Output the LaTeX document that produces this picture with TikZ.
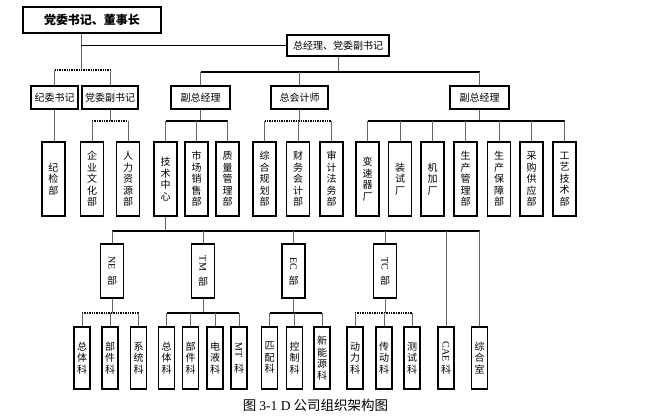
\documentclass[tikz,border=0pt]{standalone}
\usepackage{fontspec}
\usepackage{graphicx}
\newfontfamily\cjk{Noto Sans CJK SC}
\newfontfamily\lat{Liberation Serif}
\newcommand\latv[1]{\rotatebox[origin=c]{-90}{\lat #1}}
\begin{document}
\begin{tikzpicture}[x=1pt, y=-1pt, every node/.style={font=\cjk\fontsize{10}{11.5}\selectfont},
    box/.style={draw, line width=1.1pt, inner sep=0pt, align=center},
    lead/.style={box, minimum height=23},
    dept/.style={box, minimum width=23, minimum height=74},
    unit/.style={box, minimum width=23, minimum height=54},
    sect/.style={box, minimum width=16, minimum height=62},
    link/.style={black!60, line width=0.8pt},
    bus/.style={line width=1.4pt},
    dbus/.style={line width=1.4pt, densely dotted}]
    \useasboundingbox (0,0) rectangle (649,418);
    \node[box, minimum width=138, minimum height=26, font=\cjk\fontsize{12}{14}\selectfont\bfseries] (chair) at (92,20) {党委书记、董事长};
    \node[box, minimum width=102, minimum height=21] (gm) at (338,45.5) {总经理、党委副书记};
    \node[lead, minimum width=47] (jw) at (54.5,97.5) {纪委书记};
    \node[lead, minimum width=56] (dw) at (110,97.5) {党委副书记};
    \node[lead, minimum width=59] (fz1) at (200.5,97.5) {副总经理};
    \node[lead, minimum width=57] (kj) at (299.5,97.5) {总会计师};
    \node[lead, minimum width=59] (fz2) at (479.5,97.5) {副总经理};
    \foreach \n/\x/\t in {jj/53.5/{纪\\检\\部}, qy/92/{企\\业\\文\\化\\部}, rl/128/{人\\力\\资\\源\\部},
        js/165.5/{技\\术\\中\\心}, sc/196.5/{市\\场\\销\\售\\部}, zl/227.5/{质\\量\\管\\理\\部},
        zh/264.5/{综\\合\\规\\划\\部}, cw/298/{财\\务\\会\\计\\部}, sj/331.5/{审\\计\\法\\务\\部},
        bs/367.5/{变\\速\\器\\厂}, zs/400/{装\\试\\厂}, jg/432.5/{机\\加\\厂}, gl/465.5/{生\\产\\管\\理\\部},
        bz/499/{生\\产\\保\\障\\部}, cg/531.5/{采\\购\\供\\应\\部}, gy/564.5/{工\\艺\\技\\术\\部}}
        \node[dept] (\n) at (\x,179) {\t};
    \node[unit] (ne) at (112,271) {\latv{NE}\\[5pt]部};
    \node[unit] (tm) at (203,271) {\latv{TM}\\[5pt]部};
    \node[unit] (ec) at (293.5,271) {\latv{EC}\\[5pt]部};
    \node[unit] (tc) at (385,271) {\latv{TC}\\[5pt]部};
    \foreach \n/\x/\t in {a1/82/{总\\体\\科}, a2/110/{部\\件\\科}, a3/138.5/{系\\统\\科},
        b1/166.5/{总\\体\\科}, b2/190.5/{部\\件\\科}, b3/215/{电\\液\\科}, b4/239/{\latv{MT}\\[5pt]科},
        c1/269.5/{匹\\配\\科}, c2/294.5/{控\\制\\科}, c3/322/{新\\能\\源\\科},
        d1/355/{动\\力\\科}, d2/384/{传\\动\\科}, d3/412/{测\\试\\科},
        cae/446/{\latv{CAE}\\[3pt]科}, zhs/479.5/{综\\合\\室}}
        \node[sect] (\n) at (\x,358) {\t};
    \node[font=\cjk\fontsize{13.5}{15}\selectfont] (cap) at (315.5,405) {图 {\lat 3-1 D} 公司组织架构图};
    \coordinate (y1) at (0,70);
    \coordinate (y2) at (0,72);
    \coordinate (y3) at (0,121);
    \coordinate (y4) at (0,231);
    \coordinate (y5) at (0,313);
    \coordinate (cs) at ([xshift=-11]chair.south);
    \draw[link] (cs) -- (cs |- y1);
    \draw[bus] (cs |- gm.west) -- (gm.west);
    \draw[dbus] (jw.north |- y1) -- (dw.north |- y1);
    \foreach \n in {jw,dw} \draw[link] (\n.north |- y1) -- (\n.north);
    \draw[link] (gm.south) -- (gm.south |- y2);
    \draw[bus] (fz1.north |- y2) -- (fz2.north |- y2);
    \foreach \n in {fz1,kj,fz2} \draw[link] (\n.north |- y2) -- (\n.north);
    \draw[link] (jw.south) -- (jw.south |- jj.north);
    \draw[link] (dw.south) -- (dw.south |- y3);
    \draw[dbus] (qy.north |- y3) -- (rl.north |- y3);
    \foreach \n in {qy,rl} \draw[link] (\n.north |- y3) -- (\n.north);
    \draw[link] (fz1.south) -- (fz1.south |- y3);
    \draw[bus] (js.north |- y3) -- (zl.north |- y3);
    \foreach \n in {js,sc,zl} \draw[link] (\n.north |- y3) -- (\n.north);
    \draw[link] (kj.south) -- (kj.south |- y3);
    \draw[dbus] (zh.north |- y3) -- (sj.north |- y3);
    \foreach \n in {zh,cw,sj} \draw[link] (\n.north |- y3) -- (\n.north);
    \draw[link] (fz2.south) -- (fz2.south |- y3);
    \draw[bus] (bs.north |- y3) -- (gy.north |- y3);
    \foreach \n in {bs,zs,jg,gl,bz,cg,gy} \draw[link] (\n.north |- y3) -- (\n.north);
    \draw[link] (js.south) -- (js.south |- y4);
    \draw[bus] (ne.north |- y4) -- (zhs.north |- y4);
    \foreach \n in {ne,tm,ec,tc,cae,zhs} \draw[link] (\n.north |- y4) -- (\n.north);
    \draw[link] (ne.south) -- (ne.south |- y5);
    \draw[dbus] (a1.north |- y5) -- (a3.north |- y5);
    \foreach \n in {a1,a2,a3} \draw[link] (\n.north |- y5) -- (\n.north);
    \draw[link] (tm.south) -- (tm.south |- y5);
    \draw[bus] (b1.north |- y5) -- (b4.north |- y5);
    \foreach \n in {b1,b2,b3,b4} \draw[link] (\n.north |- y5) -- (\n.north);
    \draw[link] (ec.south) -- (ec.south |- y5);
    \draw[bus] (c1.north |- y5) -- (c3.north |- y5);
    \foreach \n in {c1,c2,c3} \draw[link] (\n.north |- y5) -- (\n.north);
    \draw[link] (tc.south) -- (tc.south |- y5);
    \draw[dbus] (d1.north |- y5) -- (d3.north |- y5);
    \foreach \n in {d1,d2,d3} \draw[link] (\n.north |- y5) -- (\n.north);
\end{tikzpicture}
\end{document}
